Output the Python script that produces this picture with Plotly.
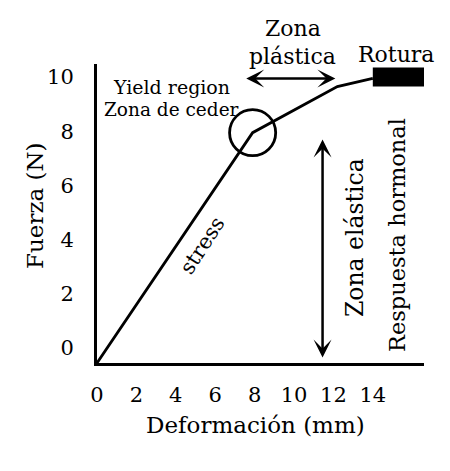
import plotly.graph_objects as go

# ---- data ----
deformacion = [0, 7.9, 12.2, 14.0]          # mm
fuerza = [0, 8.5, 10.2, 10.5]               # N
rotura_x = [14.0, 16.6]
rotura_y = [10.2, 10.9]
yield_point = [7.9, 8.5]
x_ticks = [0, 2, 4, 6, 8, 10, 12, 14]
y_ticks = [0, 2, 4, 6, 8, 10]
plastic_arrow_x = [7.5, 12.1]
plastic_arrow_y = 10.5
elastic_arrow_x = 11.45
elastic_arrow_y = [0.2, 8.3]

FONT = "DejaVu Serif"
OFF = 8                      # default page body margin
W, H = 450 - 2 * OFF, 471 - 2 * OFF
L, T = 97 - OFF, 64 - OFF
R = W - (424 - OFF)
B = H - (363 - OFF)
PW, PH = W - L - R, H - T - B


def P(px, py):
    return (px - OFF - L) / PW, (H - B - (py - OFF)) / PH


fig = go.Figure()
fig.add_trace(go.Scatter(x=deformacion, y=fuerza, mode="lines",
                         line=dict(color="black", width=2.8),
                         showlegend=False, hoverinfo="skip"))

# Rotura block
fig.add_shape(type="rect", xref="x", yref="y",
              x0=rotura_x[0], x1=rotura_x[1], y0=rotura_y[0], y1=rotura_y[1],
              fillcolor="black", line=dict(color="black", width=0))
# Yield circle
rx, ry = 1.17, 0.85
fig.add_shape(type="circle", xref="x", yref="y",
              x0=yield_point[0] - rx, x1=yield_point[0] + rx,
              y0=yield_point[1] - ry, y1=yield_point[1] + ry,
              line=dict(color="black", width=2.8))

ann = []
ann.append(dict(x=plastic_arrow_x[1], y=plastic_arrow_y, ax=plastic_arrow_x[0], ay=plastic_arrow_y,
                xref="x", yref="y", axref="x", ayref="y", text="", showarrow=True,
                arrowhead=3, startarrowhead=3, arrowside="end+start",
                arrowsize=1.2, startarrowsize=1.2, arrowwidth=2.5, arrowcolor="black"))
ann.append(dict(x=elastic_arrow_x, y=elastic_arrow_y[0], ax=elastic_arrow_x, ay=elastic_arrow_y[1],
                xref="x", yref="y", axref="x", ayref="y", text="", showarrow=True,
                arrowhead=3, startarrowhead=3, arrowside="end+start",
                arrowsize=1.2, startarrowsize=1.2, arrowwidth=2.5, arrowcolor="black"))


def txt(px, py, s, size, angle=0):
    x, y = P(px, py)
    ann.append(dict(x=x, y=y, xref="paper", yref="paper", text=s, showarrow=False,
                    textangle=angle, xanchor="center", yanchor="middle",
                    font=dict(family=FONT, size=size, color="black")))


txt(293, 28, "Zona", 22)
txt(292, 56, "plástica", 22)
txt(396, 54, "Rotura", 22)
txt(171, 87, "Yield region", 19)
txt(171, 109, "Zona de ceder", 18.5)
txt(202, 246, "stress", 21, -57)
txt(355, 238, "Zona elástica", 23.5, -90)
txt(397, 235, "Respuesta hormonal", 22.5, -90)
txt(255, 425, "Deformación (mm)", 23)
txt(35, 206, "Fuerza (N)", 23, -90)

fig.update_layout(
    width=W, height=H, margin=dict(l=L, r=R, t=T, b=B),
    paper_bgcolor="white", plot_bgcolor="white",
    annotations=ann,
    font=dict(family=FONT, color="black"),
    xaxis=dict(range=[0, PW / 19.7], tickvals=x_ticks, showgrid=False, zeroline=False,
               showline=True, linecolor="black", linewidth=3, ticks="",
               ticklabelstandoff=11, tickfont=dict(family=FONT, size=21, color="black")),
    yaxis=dict(range=[0, PH / 27.1], tickvals=y_ticks, showgrid=False, zeroline=False,
               showline=True, linecolor="black", linewidth=3, ticks="",
               ticklabelshift=-15, ticklabelstandoff=16,
               tickfont=dict(family=FONT, size=21, color="black")),
)

fig.write_html("out.html")
